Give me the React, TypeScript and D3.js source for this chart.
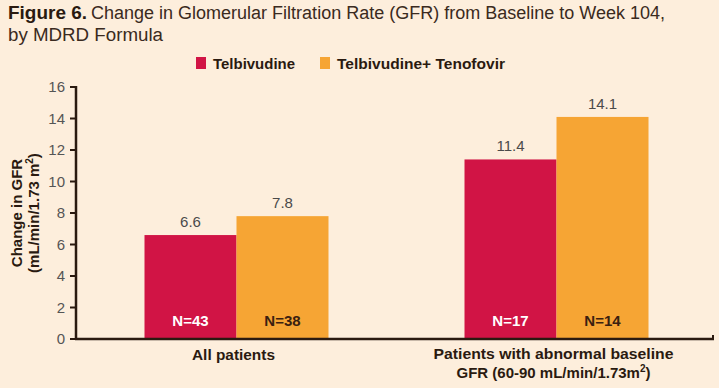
import React from "react";
import * as d3 from "d3";

const categories = ["All patients", "Patients with abnormal baseline GFR"];
const series = ["Telbivudine", "Telbivudine+ Tenofovir"];
const telbivudine = [6.6, 11.4];
const combo = [7.8, 14.1];
const nTelbivudine = ["N=43", "N=17"];
const nCombo = ["N=38", "N=14"];
const yTicks = [0, 2, 4, 6, 8, 10, 12, 14, 16];

const W = 719;
const H = 388;
const colors = ["#D11445", "#F6A534"];
const font = "'Liberation Sans', Arial, sans-serif";
const ink = "#2a1a10";

export default function App() {
  const y = d3.scaleLinear().domain([0, 16]).range([339, 87]);
  // band scale: groups start at ~144 and ~464, 184px wide
  const x0 = d3.scaleBand().domain(categories).range([78, 715]).paddingInner(0.425).paddingOuter(0.2078);
  const x1 = d3.scaleBand().domain(series).range([0, x0.bandwidth()]);

  const values = [telbivudine, combo];
  const nLabels = [nTelbivudine, nCombo];
  const c0 = x0(categories[0])! + x0.bandwidth() / 2;
  const c1 = x0(categories[1])! + x0.bandwidth() / 2;

  return (
    <svg width={W} height={H} style={{ position: "absolute", left: 0, top: 0 }}>
      <rect width={W} height={H} fill="#FDEEDC" />
      {/* title */}
      <text x={8} y={19} fontFamily={font} fontSize={18} fontWeight="bold" fill={ink} textLength={79} lengthAdjust="spacingAndGlyphs">
        Figure 6.
      </text>
      <text x={91} y={19} fontFamily={font} fontSize={18} fill="#3a2a20" textLength={574} lengthAdjust="spacingAndGlyphs">
        Change in Glomerular Filtration Rate (GFR) from Baseline to Week 104,
      </text>
      <text x={8} y={41} fontFamily={font} fontSize={18} fill="#3a2a20" textLength={155} lengthAdjust="spacingAndGlyphs">
        by MDRD Formula
      </text>

      {/* legend */}
      {series.map((s, i) => {
        const lx = i === 0 ? 196 : 320;
        return (
          <g key={s}>
            <rect x={lx} y={57} width={10} height={12} fill={colors[i]} />
            <text x={lx + 17} y={69} fontFamily={font} fontSize={15} fontWeight="bold" fill={ink}
              textLength={i === 0 ? 82 : 168} lengthAdjust="spacingAndGlyphs">{s}</text>
          </g>
        );
      })}

      {/* y axis label */}
      <g transform="translate(0,213) rotate(-90)">
        <text x={0} y={22} textAnchor="middle" fontFamily={font} fontSize={15} fontWeight="bold" fill={ink}>Change in GFR</text>
        <text x={0} y={39} textAnchor="middle" fontFamily={font} fontSize={15} fontWeight="bold" fill={ink}>
          (mL/min/1.73 m<tspan fontSize={10} dy={-6}>2</tspan><tspan dy={6}>)</tspan>
        </text>
      </g>

      {/* ticks */}
      {yTicks.map((t) => (
        <g key={t}>
          <line x1={70} x2={76} y1={y(t)} y2={y(t)} stroke={ink} strokeWidth={2} />
          <text x={65} y={y(t) + 5} textAnchor="end" fontFamily={font} fontSize={15} fill="#555">{t}</text>
        </g>
      ))}

      {/* bars */}
      {categories.map((c, ci) => (
        <g key={c} transform={`translate(${x0(c)},0)`}>
          {series.map((s, si) => {
            const v = values[si][ci];
            const bx = x1(s)!;
            const bw = x1.bandwidth();
            return (
              <g key={s}>
                <rect x={bx} y={y(v)} width={bw} height={y(0) - y(v)} fill={colors[si]} />
                <text x={bx + bw / 2} y={y(v) - 8} textAnchor="middle" fontFamily={font} fontSize={15} fill="#4a4a4a">
                  {v.toFixed(1)}
                </text>
                <text x={bx + bw / 2} y={326} textAnchor="middle" fontFamily={font} fontSize={15} fontWeight="bold"
                  fill={si === 0 ? "#ffffff" : "#3a2010"}>
                  {nLabels[si][ci]}
                </text>
              </g>
            );
          })}
        </g>
      ))}

      {/* axes lines */}
      <line x1={76} x2={76} y1={y(16) - 1} y2={y(0) + 1} stroke={ink} strokeWidth={2.5} />
      <line x1={75} x2={714} y1={y(0)} y2={y(0)} stroke={ink} strokeWidth={2.5} />
      <line x1={713} x2={713} y1={y(0)} y2={y(0) - 4} stroke={ink} strokeWidth={2} />

      {/* category labels */}
      <text x={c0 - 3} y={360} textAnchor="middle" fontFamily={font} fontSize={15} fontWeight="bold" fill={ink}
        textLength={83} lengthAdjust="spacingAndGlyphs">
        All patients
      </text>
      <text x={c1 - 3} y={359} textAnchor="middle" fontFamily={font} fontSize={15} fontWeight="bold" fill={ink}
        textLength={240} lengthAdjust="spacingAndGlyphs">
        Patients with abnormal baseline
      </text>
      <text x={c1 - 3} y={378} textAnchor="middle" fontFamily={font} fontSize={15} fontWeight="bold" fill={ink}>
        GFR (60-90 mL/min/1.73m<tspan fontSize={10} dy={-6}>2</tspan><tspan dy={6}>)</tspan>
      </text>
    </svg>
  );
}
